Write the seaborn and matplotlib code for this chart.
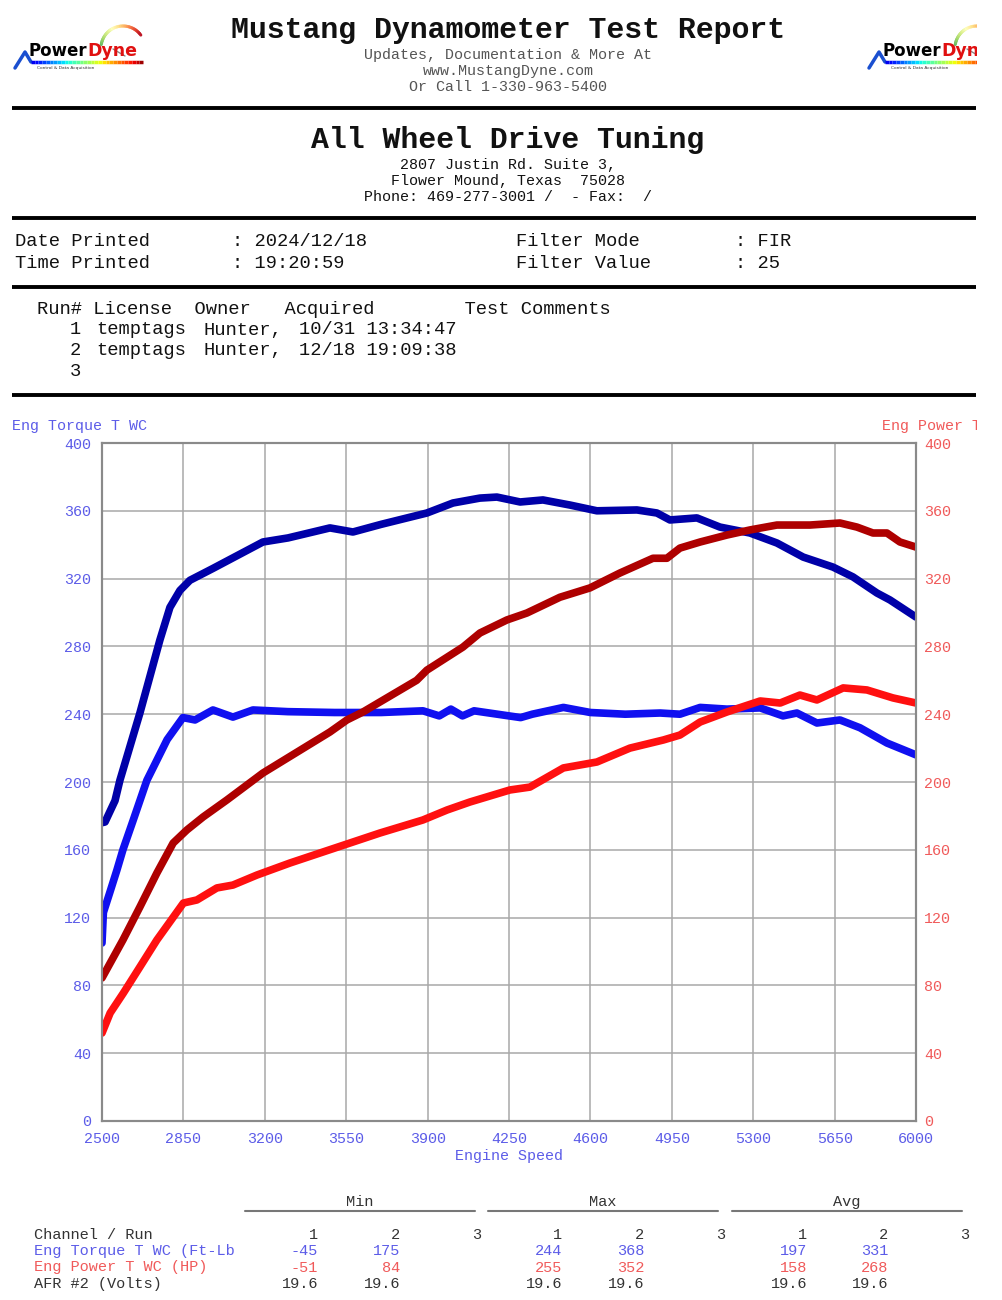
import numpy as np
import matplotlib
matplotlib.use('Agg')
import matplotlib.pyplot as plt
from matplotlib.patches import Rectangle
import seaborn as sns

#Data
rpmTorque1 = [2500, 2506, 2534, 2564, 2590, 2633, 2693, 2780, 2848, 2900, 2977, 3063, 3149, 3300, 3500,
              3700, 3880, 3950, 4000, 4050, 4100, 4200, 4300, 4350, 4484, 4600, 4750, 4900, 4985, 5072,
              5187, 5330, 5428, 5488, 5574, 5673, 5759, 5875, 6000]
torque1 = [105, 123, 135, 148, 160, 177, 201, 225, 238, 236.6, 242.5, 238.3, 242.5, 241.5, 241,
           241, 242, 239, 243, 239, 242, 240, 238, 240, 244, 241, 240, 240.7, 240, 244,
           243, 243.7, 239, 240.7, 234.8, 236.6, 232, 223, 216]

rpmTorque2 = [2500, 2513, 2556, 2577, 2663, 2749, 2792, 2835, 2878, 2977, 3192, 3300, 3480, 3579, 3700,
              3897, 4009, 4125, 4198, 4298, 4396, 4512, 4628, 4800, 4886, 4942, 5058, 5157, 5286, 5402,
              5515, 5643, 5729, 5832, 5888, 6000]
torque2 = [176, 176.4, 189, 201, 240.7, 283.8, 303, 313, 319, 326, 341.6, 344, 349.9, 347.5, 352,
           358.7, 364.6, 367.5, 368.1, 365.2, 366.4, 363.4, 360, 360.5, 358.7, 354.6, 355.8, 350.4, 346.9, 341,
           332.7, 326.8, 321, 311.5, 307.4, 297.3]

rpmPower1 = [2500, 2535, 2592, 2663, 2736, 2850, 2908, 2994, 3063, 3166, 3308, 3450, 3566, 3695, 3880,
             3984, 4082, 4254, 4340, 4484, 4628, 4770, 4914, 4985, 5072, 5187, 5330, 5416, 5501, 5574,
             5687, 5789, 5901, 6000]
power1 = [51.9, 63.7, 75.5, 90.9, 106.8, 128.6, 130.4, 137.5, 139.2, 145.1, 152.2, 158.7, 164, 169.9, 177.6,
          183.5, 188.2, 195.3, 197, 208.3, 211.8, 220, 224.8, 227.7, 235.4, 241.3, 247.8, 246.6, 251.3, 248.4,
          255.5, 254.3, 249.6, 246.6]

rpmPower2 = [2500, 2590, 2663, 2736, 2806, 2865, 2935, 3037, 3192, 3480, 3553, 3622, 3853, 3897, 4052,
             4125, 4241, 4327, 4469, 4598, 4727, 4869, 4929, 4985, 5072, 5187, 5286, 5402, 5544, 5673,
             5746, 5815, 5875, 5931, 6000]
power2 = [84.4, 106.8, 126.3, 146.3, 164, 171.7, 179.4, 189.4, 205.3, 229.5, 236.6, 241.3, 260, 266, 279.6,
          287.9, 295.6, 299.7, 309, 314.5, 323.3, 332, 332, 338, 341.6, 345.7, 348.7, 351.6, 351.6, 352.8,
          350.4, 346.9, 346.9, 341.6, 338.6]

xTicks = list(range(2500, 6001, 350))
yTicks = list(range(0, 401, 40))

#Summary table
channels = ['Eng Torque T WC (Ft-Lb', 'Eng Power T WC (HP)', 'AFR #2 (Volts)']
minVals = [['-45', '175', ''], ['-51', '84', ''], ['19.6', '19.6', '']]
maxVals = [['244', '368', ''], ['255', '352', ''], ['19.6', '19.6', '']]
avgVals = [['197', '331', ''], ['158', '268', ''], ['19.6', '19.6', '']]

#Colours
torqueColor1 = '#1010f0'
torqueColor2 = '#0000a8'
powerColor1 = '#ff1010'
powerColor2 = '#ae0000'
blueText = '#5c5ce8'
redText = '#f05a5a'

sns.set_style('white')
plt.rcParams['font.family'] = ['Liberation Mono', 'DejaVu Sans']

fig = plt.figure(figsize=(10.02, 13), dpi=100)

#Page layer in pixel coords
page = fig.add_axes([0, 0, 1, 1], zorder=-1)
page.set_xlim(0, 1002)
page.set_ylim(1300, 0)
page.axis('off')

def pageText(x, y, s, size=10.8, color='#111111', ha='left', weight='normal', family=None):
    kw = {}
    if family is not None:
        kw['family'] = family
    page.text(x, y, s, fontsize=size, color=color, ha=ha, va='center', fontweight=weight, **kw)

def drawLogo(x0, y0):
    #caret + gradient underline
    page.plot([x0, x0 + 10, x0 + 16], [y0 + 46, y0 + 30, y0 + 40], color='#1a4fd0', lw=2.5, solid_capstyle='round')
    cmap = plt.get_cmap('jet')
    n = 30
    xs = np.linspace(x0 + 16, x0 + 128, n + 1)
    for i in range(n):
        page.plot(xs[i:i + 2], [y0 + 40, y0 + 40], color=cmap(0.1 + 0.9 * i / n), lw=2.5, solid_capstyle='butt')
    #gauge arc
    ang = np.linspace(np.pi * 0.95, np.pi * 0.2, 30)
    cx, cy, r = x0 + 108, y0 + 26, 22
    for i in range(len(ang) - 1):
        page.plot([cx + r * np.cos(ang[i]), cx + r * np.cos(ang[i + 1])],
                  [cy - r * np.sin(ang[i]), cy - r * np.sin(ang[i + 1])],
                  color=plt.get_cmap('RdYlGn_r')(0.2 + 0.8 * i / len(ang)), lw=2.2)
    page.plot([cx - 10, cx + 2], [cy + 1, cy + 8], color='#888888', lw=1)
    page.text(x0 + 72, y0 + 29, 'Power', fontsize=12, fontweight='bold', family='DejaVu Sans',
              color='black', ha='right', va='center')
    page.text(x0 + 72, y0 + 29, 'Dyne', fontsize=12.5, fontweight='bold', family='DejaVu Sans',
              color='#e01010', ha='left', va='center')
    page.text(x0 + 22, y0 + 46, 'Control & Data Acquisition', fontsize=3.2, family='DejaVu Sans',
              color='#333333', ha='left', va='center')

drawLogo(15, 22)
drawLogo(869, 22)

#Header
pageText(508, 30, 'Mustang Dynamometer Test Report', size=21.5, ha='center', weight='bold')
pageText(508, 55, 'Updates, Documentation & More At', ha='center', color='#555555')
pageText(508, 71, 'www.MustangDyne.com', ha='center', color='#555555')
pageText(508, 87, 'Or Call 1-330-963-5400', ha='center', color='#555555')

pageText(508, 140, 'All Wheel Drive Tuning', size=21.5, ha='center', weight='bold')
pageText(508, 165, '2807 Justin Rd. Suite 3,', ha='center')
pageText(508, 181, 'Flower Mound, Texas  75028', ha='center')
pageText(508, 197, 'Phone: 469-277-3001 /  - Fax:  /', ha='center')

for yLine in [108, 218, 287, 395]:
    page.plot([12, 976], [yLine, yLine], color='black', lw=2.8, solid_capstyle='butt')

pageText(15, 242, 'Date Printed', size=13.5)
pageText(232, 242, ': 2024/12/18', size=13.5)
pageText(516, 242, 'Filter Mode', size=13.5)
pageText(735, 242, ': FIR', size=13.5)
pageText(15, 263, 'Time Printed', size=13.5)
pageText(232, 263, ': 19:20:59', size=13.5)
pageText(516, 263, 'Filter Value', size=13.5)
pageText(735, 263, ': 25', size=13.5)

pageText(37, 310, 'Run# License  Owner   Acquired        Test Comments', size=13.5)
runRows = [('1', 'temptags', 'Hunter,', '10/31 13:34:47'),
           ('2', 'temptags', 'Hunter,', '12/18 19:09:38'),
           ('3', '', '', '')]
for i, row in enumerate(runRows):
    yRow = 330 + i * 20.5
    pageText(81, yRow, row[0], size=13.5, ha='right')
    pageText(96, yRow, row[1], size=13.5)
    pageText(204, yRow, row[2], size=13.5)
    pageText(299, yRow, row[3], size=13.5)

#Dyno chart
ax = fig.add_axes([102 / 1002, 1 - 1121 / 1300, 814 / 1002, 678 / 1300])
sns.lineplot(x=rpmTorque1, y=torque1, ax=ax, color=torqueColor1, lw=5.5, estimator=None)
sns.lineplot(x=rpmTorque2, y=torque2, ax=ax, color=torqueColor2, lw=5.5, estimator=None)
ax.set_xlim(2500, 6000)
ax.set_ylim(0, 400)
ax.set_xticks(xTicks)
ax.set_yticks(yTicks)
ax.grid(True, color='#a8a8a8', lw=1.1)
ax.tick_params(axis='y', colors=blueText, labelsize=10.8, length=0, pad=8)
ax.tick_params(axis='x', colors=blueText, labelsize=10.8, length=0, pad=8)
ax.set_xlabel('Engine Speed', color=blueText, fontsize=10.8, labelpad=2)
ax.set_ylabel('')
for sp in ax.spines.values():
    sp.set_color('#8a8a8a')
    sp.set_linewidth(1.5)

ax2 = ax.twinx()
sns.lineplot(x=rpmPower1, y=power1, ax=ax2, color=powerColor1, lw=5.5, estimator=None)
sns.lineplot(x=rpmPower2, y=power2, ax=ax2, color=powerColor2, lw=5.5, estimator=None)
ax2.set_ylim(0, 400)
ax2.set_yticks(yTicks)
ax2.set_ylabel('')
ax2.tick_params(axis='y', colors=redText, labelsize=10.8, length=0, pad=6)
for sp in ax2.spines.values():
    sp.set_color('#8a8a8a')
    sp.set_linewidth(1.5)

pageText(12, 426, 'Eng Torque T WC', color=blueText)
pageText(882, 426, 'Eng Power T WC', color=redText)

#Summary table
groupCenters = [360, 603, 847]
for label, cx in zip(['Min', 'Max', 'Avg'], groupCenters):
    pageText(cx, 1202, label, size=11, ha='center', color='#333333')
    page.plot([cx - 115, cx + 115], [1211, 1211], color='#777777', lw=1.5)

colRights = [[318, 400, 481], [562, 644, 725], [807, 888, 969]]
pageText(34, 1235, 'Channel / Run', size=11, color='#333333')
for g in range(3):
    for k in range(3):
        pageText(colRights[g][k], 1235, str(k + 1), size=11, ha='right', color='#333333')

rowColors = [blueText, redText, '#333333']
for r, name in enumerate(channels):
    yRow = 1251 + r * 16.5
    pageText(34, yRow, name, size=11, color=rowColors[r])
    for g, vals in enumerate([minVals, maxVals, avgVals]):
        for k in range(3):
            pageText(colRights[g][k], yRow, vals[r][k], size=11, ha='right', color=rowColors[r])

#page edge masks anything past x=976
page.add_patch(Rectangle((977, 0), 30, 1300, facecolor='white', edgecolor='none', zorder=20))

fig.savefig('out.png', dpi=100)
